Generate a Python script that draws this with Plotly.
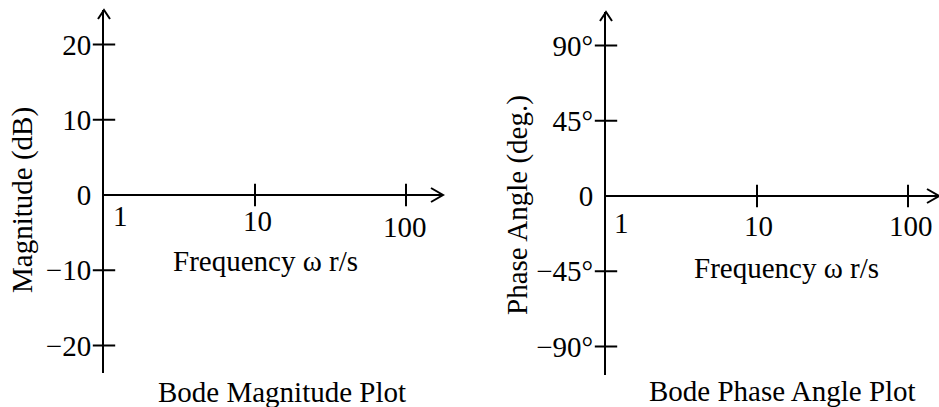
import math
import plotly.graph_objects as go

W, H = 939, 407
FONT = "Liberation Serif"
FS = 29

# ---- data (axis ticks / labels) ----
freq_ticks = [1, 10, 100]
freq_tick_labels = ["1", "10", "100"]
mag_ticks = [20, 10, 0, -10, -20]
mag_tick_labels = ["20", "10", "0", "\u221210", "\u221220"]
phase_ticks = [90, 45, 0, -45, -90]
phase_tick_labels = ["90\u00b0", "45\u00b0", "0", "\u221245\u00b0", "\u221290\u00b0"]
x_title = "Frequency \u03c9 r/s"
mag_title = "Magnitude (dB)"
phase_title = "Phase Angle (deg.)"
mag_caption = "Bode Magnitude Plot"
phase_caption = "Bode Phase Angle Plot"

# ---- layout geometry (pixels) ----
def px(x):
    return x / W

def py(y):
    return 1 - y / H

L_x0, L_x1, L_y0, L_y1 = 104, 443, 10, 373
R_x0, R_x1, R_y0, R_y1 = 606, 939, 12, 375
DEC = 151.0
L_zero, R_zero = 195, 196
L_pu = 301 / 40.0
R_pu = 301 / 180.0

L_xr = [0, (L_x1 - L_x0) / DEC]
R_xr = [0, (R_x1 - R_x0) / DEC]
L_yr = [-(L_y1 - L_zero) / L_pu, (L_zero - L_y0) / L_pu]
R_yr = [-(R_y1 - R_zero) / R_pu, (R_zero - R_y0) / R_pu]

fig = go.Figure()

tick_marker_v = dict(symbol="line-ns", size=16, line=dict(width=2, color="black"))
tick_marker_h = dict(symbol="line-ew", size=16, line=dict(width=2, color="black"))

# crossing tick marks on the frequency axes and the value axes
for xa, ya, yt in (("x", "y", mag_ticks), ("x2", "y2", phase_ticks)):
    fig.add_trace(go.Scatter(x=freq_ticks[1:], y=[0] * (len(freq_ticks) - 1), mode="markers",
                             xaxis=xa, yaxis=ya, cliponaxis=False, hoverinfo="skip",
                             marker=tick_marker_v))
    yt_nz = [v for v in yt if v != 0]
    fig.add_trace(go.Scatter(x=[freq_ticks[0]] * len(yt_nz), y=yt_nz, mode="markers",
                             xaxis=xa, yaxis=ya, cliponaxis=False, hoverinfo="skip",
                             marker=tick_marker_h))

xcommon = dict(type="log", showgrid=False, zeroline=False, showline=False,
               showticklabels=False, ticks="")
ycommon = dict(showgrid=False, zeroline=True, zerolinecolor="black", zerolinewidth=2,
               showline=True, linecolor="black", linewidth=2,
               ticks="outside", ticklen=5, tickwidth=2, tickcolor="rgba(0,0,0,0)",
               tickfont=dict(family=FONT, size=FS, color="black"))

fig.update_layout(
    width=W, height=H, margin=dict(l=0, r=0, t=0, b=0),
    paper_bgcolor="white", plot_bgcolor="white", showlegend=False,
    font=dict(family=FONT, size=FS, color="black"),
    xaxis=dict(domain=[px(L_x0), px(L_x1)], range=L_xr, anchor="y", **xcommon),
    yaxis=dict(domain=[py(L_y1), py(L_y0)], range=L_yr, anchor="x",
               tickvals=mag_ticks, ticktext=mag_tick_labels, **ycommon),
    xaxis2=dict(domain=[px(R_x0), px(R_x1)], range=R_xr, anchor="y2", **xcommon),
    yaxis2=dict(domain=[py(R_y1), py(R_y0)], range=R_yr, anchor="x2",
                tickvals=phase_ticks, ticktext=phase_tick_labels, **ycommon),
)

# arrow heads
def arrows(xd, yd, yr):
    zf = -yr[0] / (yr[1] - yr[0])
    line = dict(color="black", width=2)
    return [
        dict(type="path", xref=xd + " domain", yref=yd + " domain", xsizemode="pixel",
             ysizemode="pixel", xanchor=0, yanchor=1, path="M-6,-9 L0,0 L6,-9", line=line),
        dict(type="path", xref=xd + " domain", yref=yd + " domain", xsizemode="pixel",
             ysizemode="pixel", xanchor=1, yanchor=zf, path="M-12,7 L0,0 L-12,-7", line=line),
    ]

fig.update_layout(shapes=arrows("x", "y", L_yr) + arrows("x2", "y2", R_yr))

ann = []
C = dict(showarrow=False, xanchor="center", yanchor="middle")
# frequency tick labels (staggered)
L_off = [(16, -21), (2, -26), (-1, -32)]
R_off = [(15, -27), (1, -30), (3, -30)]
for v, t, (dx, dy) in zip(freq_ticks, freq_tick_labels, L_off):
    ann.append(dict(x=math.log10(v), y=0, xref="x", yref="y", text=t,
                    xshift=dx, yshift=dy, **C))
for v, t, (dx, dy) in zip(freq_ticks, freq_tick_labels, R_off):
    ann.append(dict(x=math.log10(v), y=0, xref="x2", yref="y2", text=t,
                    xshift=dx, yshift=dy, **C))

ann += [
    dict(x=px(265), y=py(261), xref="paper", yref="paper", text=x_title, **C),
    dict(x=px(786), y=py(268), xref="paper", yref="paper", text=x_title, **C),
    dict(x=px(282), y=py(392), xref="paper", yref="paper", text=mag_caption, **C),
    dict(x=px(782), y=py(391), xref="paper", yref="paper", text=phase_caption, **C),
    dict(x=px(22), y=py(200), xref="paper", yref="paper", text=mag_title,
         textangle=-90, **C),
    dict(x=px(517), y=py(205), xref="paper", yref="paper", text=phase_title,
         textangle=-90, **C),
]
fig.update_layout(annotations=ann)

fig.write_html("out.html")
